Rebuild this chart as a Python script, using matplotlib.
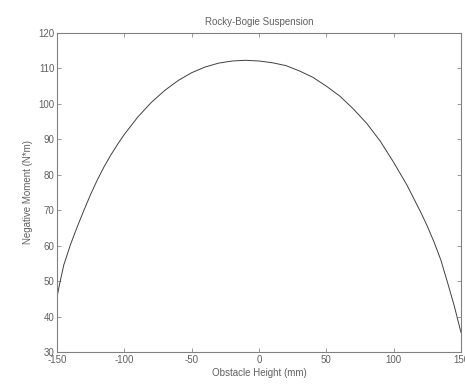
import matplotlib
matplotlib.use("Agg")
import matplotlib.pyplot as plt
import numpy as np

obstacle_height = [-150, -148, -145, -140, -135, -130, -125, -120, -115, -110, -105, -100,
                   -90, -80, -70, -60, -50, -40, -30, -20, -10, 0, 10, 20, 30, 40, 50, 60, 70,
                   80, 90, 100, 110, 120, 125, 130, 135, 140, 145, 150]
negative_moment = [45.5, 49.3, 54.5, 60.3, 65.3, 70.0, 74.5, 78.6, 82.3, 85.6, 88.6, 91.4,
                   96.3, 100.4, 103.8, 106.6, 108.8, 110.4, 111.5, 112.1, 112.3, 112.1, 111.6, 110.8,
                   109.3, 107.5, 105.0, 102.2, 98.6, 94.5, 89.5, 83.5, 77.0, 69.5, 65.5, 61.0, 56.0,
                   49.6, 43.0, 35.5]

x_ticks = [-150, -100, -50, 0, 50, 100, 150]
y_ticks = [30, 40, 50, 60, 70, 80, 90, 100, 110, 120]

plt.rcParams['font.family'] = ['Liberation Sans', 'DejaVu Sans']
plt.rcParams['axes.unicode_minus'] = False
text_color = '#606060'

fig = plt.figure(figsize=(4.65, 3.85), dpi=100)
ax = fig.add_axes([0.1226, 0.0857, 0.8688, 0.8286])
ax.plot(obstacle_height, negative_moment, color='#404040', linewidth=0.7)
ax.set_xlim(-150, 150)
ax.set_ylim(30, 120)
ax.set_xticks(x_ticks)
ax.set_yticks(y_ticks)
ax.tick_params(direction='in', top=True, right=True, length=3, width=0.6,
               colors='#888888', labelcolor=text_color, labelsize=7, pad=2)
for s in ax.spines.values():
    s.set_color('#808080')
    s.set_linewidth(0.8)
ax.set_title('Rocky-Bogie Suspension', fontsize=7, color=text_color, pad=6)
ax.set_xlabel('Obstacle Height (mm)', fontsize=7, color=text_color, labelpad=2)
ax.set_ylabel('Negative Moment (N*m)', fontsize=7, color=text_color, labelpad=4)
fig.savefig('out.png', dpi=100)
